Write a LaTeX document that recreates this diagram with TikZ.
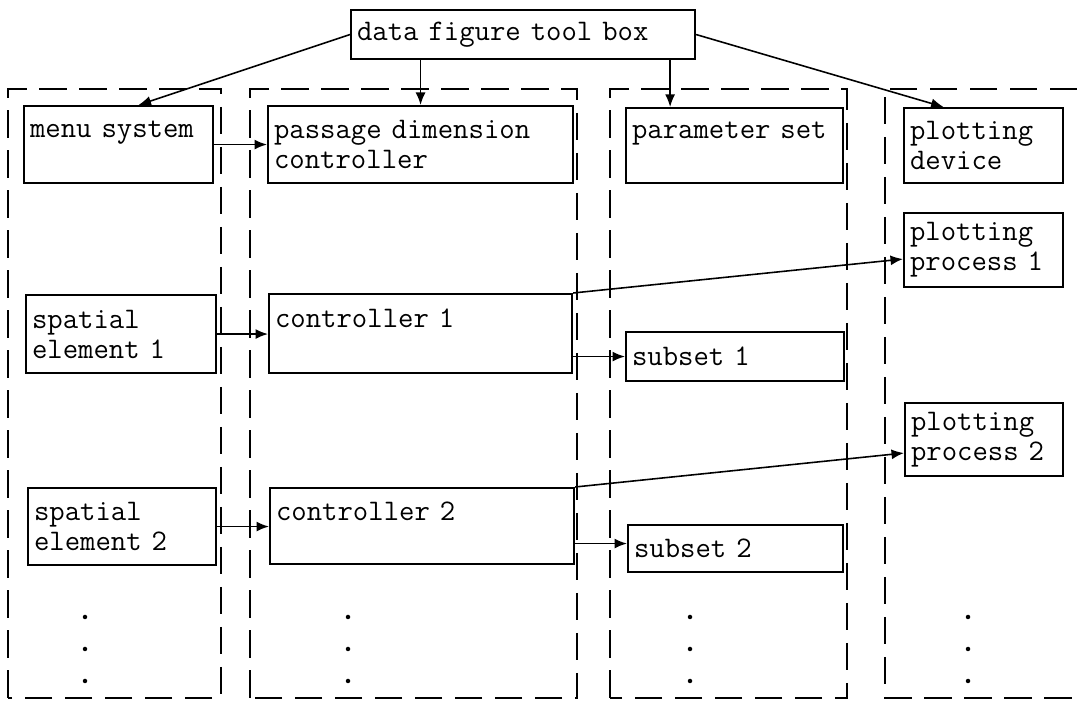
\documentclass[tikz,border=0pt]{standalone}
\usetikzlibrary{arrows.meta}
\begin{document}
\begin{tikzpicture}[line width=1.2pt,
   blk/.style 2 args={draw, anchor=north west, align=left, inner xsep=1.2mm, inner ysep=0pt,
     text width=#1cm, minimum height=#2cm, font=\ttfamily\fontsize{17}{17}\selectfont},
   lane/.style={dash pattern=on 5.5mm off 2.5mm},
   arr/.style={line width=.9pt,-{Latex[length=2.5mm,width=2mm]}}]
   \useasboundingbox (0,0) rectangle (21.54,14.04);
   \draw[lane] (0.16,0.08) rectangle (4.42,12.26);
   \draw[lane] (5.0,0.08) rectangle (11.54,12.26);
   \draw[lane] (12.2,0.08) rectangle (16.94,12.26);
   \draw[lane] (21.54,12.26) -- (17.7,12.26) -- (17.7,0.08) -- (21.54,0.08);
   \node[blk={6.64}{0.98}] (tbox) at (7.0,13.86) {data figure tool box};
   \node[blk={3.54}{1.54}] (menu) at (0.46,11.94) {menu system\\\mbox{}};
   \node[blk={5.86}{1.54}] (pdc) at (5.34,11.94) {passage dimension\\controller};
   \node[blk={4.10}{1.5}] (pset) at (12.5,11.9) {parameter set\\\mbox{}};
   \node[blk={2.94}{1.5}] (pdev) at (18.06,11.9) {plotting\\device};
   \node[blk={2.94}{1.48}] (proc1) at (18.06,9.8) {plotting\\process 1};
   \node[blk={3.56}{1.56}] (elem1) at (0.5,8.16) {spatial\\element 1};
   \node[blk={5.82}{1.58}] (ctl1) at (5.36,8.18) {controller 1\\\mbox{}};
   \node[blk={4.12}{0.98}] (sub1) at (12.5,7.42) {subset 1};
   \node[blk={2.92}{1.46}] (proc2) at (18.08,6.0) {plotting\\process 2};
   \node[blk={3.52}{1.54}] (elem2) at (0.54,4.3) {spatial\\element 2};
   \node[blk={5.84}{1.52}] (ctl2) at (5.38,4.3) {controller 2\\\mbox{}};
   \node[blk={4.06}{0.94}] (sub2) at (12.54,3.56) {subset 2};
   \coordinate (tpk) at ([xshift=-5.2mm]tbox.south east);
   \draw[arr] (tbox.west) -- ([xshift=4mm]menu.north);
   \draw[arr] (pdc.north |- tbox.south) -- (pdc.north);
   \draw[arr] (tpk) -- (tpk |- pset.north);
   \draw[arr] (tbox.east) -- ([xshift=-8mm]pdev.north);
   \draw[arr] (menu.east) -- (pdc.west);
   \draw[arr] (elem1.east) -- (elem1.east -| ctl1.west);
   \draw[arr] (ctl1.east |- sub1.west) -- (sub1.west);
   \draw[arr] (ctl1.north east) -- ([yshift=-1.8mm]proc1.west);
   \draw[arr] (elem2.east) -- (elem2.east -| ctl2.west);
   \draw[arr] ([yshift=1mm]ctl2.east |- sub2.west) -- ([yshift=1mm]sub2.west);
   \draw[arr] (ctl2.north east) -- ([yshift=-2.7mm]proc2.west);
   \foreach \x in {1.7,6.96,13.8,19.36}
     \foreach \y in {1.7,1.06,0.42}
       \fill (\x,\y) circle (0.045);
\end{tikzpicture}
\end{document}
